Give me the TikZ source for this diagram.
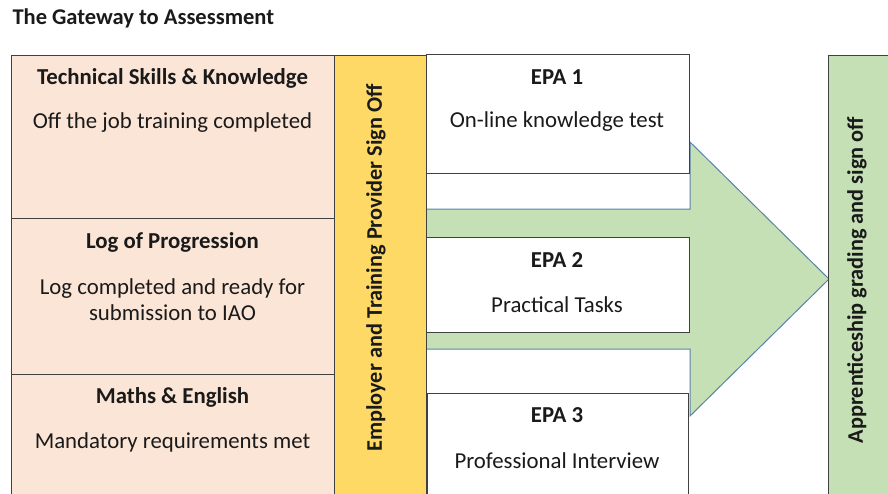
\documentclass[tikz,border=0pt]{standalone}
\usepackage{fontspec}
\setmainfont{Carlito}
\definecolor{peach}{HTML}{FBE5D6}
\definecolor{gold}{HTML}{FFD966}
\definecolor{leaf}{HTML}{C5E0B4}
\definecolor{boxline}{HTML}{404040}
\definecolor{arrowline}{HTML}{5A82A8}
\definecolor{ink}{HTML}{1A1A1A}

\begin{document}
\begin{tikzpicture}[
	x=1pt, y=-1pt,
	box/.style={draw=boxline, line width=1.2pt, anchor=north west, inner sep=0pt},
	req/.style={box, fill=peach, minimum width=323pt},
	epa/.style={box, fill=white},
	head/.style={font=\fontsize{22.8}{26}\selectfont\bfseries, text=ink},
	body/.style={font=\fontsize{22.8}{26}\selectfont, text=ink, align=center},
	side/.style={font=\fontsize{22.3}{26}\selectfont\bfseries, text=ink, rotate=90}
]
	\useasboundingbox (0,0) rectangle (888,493);
	\clip (0,0) rectangle (888,493);

	\node[font=\fontsize{22.5}{26}\selectfont\bfseries, text=ink, anchor=west] (title) at (9, 18) {The Gateway to Assessment};

	% big arrow behind the EPA boxes
	\path[fill=leaf, draw=arrowline, line width=1pt]
		(426,209) -- (690,209) -- (690,142) -- (829,279) -- (690,416) -- (690,349) -- (426,349) -- cycle;

	\node[epa, minimum width=263pt, minimum height=119pt] (epa1) at (426, 54) {};
	\node[epa, minimum width=264pt, minimum height=95pt] (epa2) at (425, 237) {};
	\node[epa, minimum width=261pt, minimum height=130pt] (epa3) at (427, 393) {};

	\node[req, minimum height=163pt] (tsk) at (11, 55) {};
	\node[req, minimum height=156pt] (log) at (11, 218) {};
	\node[req, minimum height=146pt] (me) at (11, 374) {};

	\node[box, fill=gold, minimum width=92pt, minimum height=460pt] (sign) at (334, 55) {};
	\node[box, fill=leaf, minimum width=80pt, minimum height=460pt] (grade) at (828, 55) {};

	\node[head] (tskH) at (172.5, 78) {Technical Skills \& Knowledge};
	\node[body] (tskB) at (172.5, 123) {Off the job training completed};
	\node[head] (logH) at (172.5, 242) {Log of Progression};
	\node[body] (logB) at (172.5, 300) {Log completed and ready for\\submission to IAO};
	\node[head] (meH) at (172.5, 397) {Maths \& English};
	\node[body] (meB) at (172.5, 442) {Mandatory requirements met};

	\node[head] (epa1H) at (557, 77) {EPA 1};
	\node[body] (epa1B) at (557, 122) {On-line knowledge test};
	\node[head] (epa2H) at (557, 260) {EPA 2};
	\node[body] (epa2B) at (557, 305) {Practical Tasks};
	\node[head] (epa3H) at (557, 415) {EPA 3};
	\node[body] (epa3B) at (557, 461) {Professional Interview};

	\node[side] (signT) at (376, 268) {Employer and Training Provider Sign Off};
	\node[side] (gradeT) at (857, 280) {Apprenticeship grading and sign off};
\end{tikzpicture}
\end{document}
